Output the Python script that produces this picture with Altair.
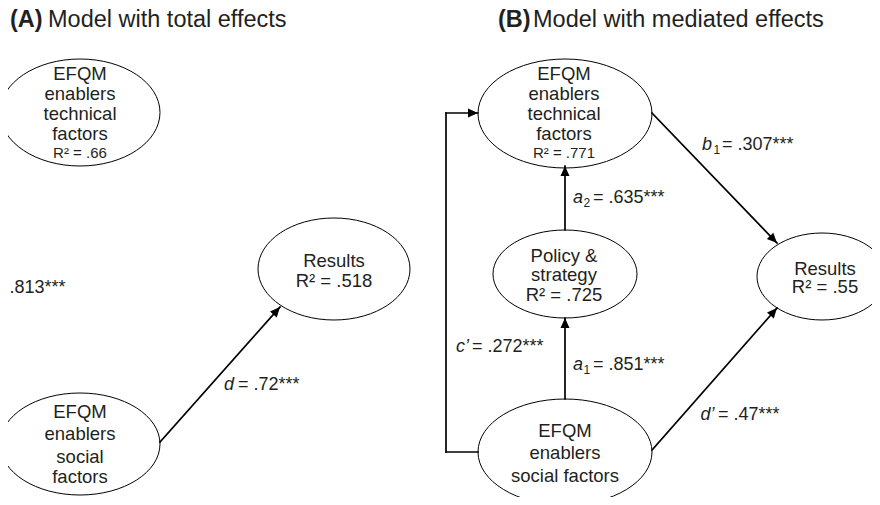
import math
import altair as alt
import pandas as pd

TEXT = "#231f20"
FONT = "Liberation Sans"

# ---------------- nodes (ellipses) in the figure's frame ----------------
node_id = ["A_tech", "A_res", "A_soc", "B_tech", "B_pol", "B_res", "B_soc"]
node_x = [80, 334, 80, 565, 565, 822, 565]
node_y = [112.5, 269, 444, 113.5, 274, 276.5, 452]
node_rx = [80, 76, 80, 87, 72, 65, 87]
node_ry = [53.5, 51, 51, 54.5, 44, 43.5, 53]

# ---------------- node labels ----------------
lab_text = ["EFQM", "enablers", "technical", "factors",
            "Results", "R² = .518",
            "EFQM", "enablers", "social", "factors",
            "EFQM", "enablers", "technical", "factors",
            "Policy &", "strategy", "R² = .725",
            "Results", "R² = .55",
            "EFQM", "enablers", "social factors"]
lab_x = [80, 80, 80, 80,
         334, 334,
         80, 80, 80, 80,
         564, 564, 564, 564,
         564, 564, 564,
         825, 825,
         565, 565, 565]
lab_y = [80, 100, 120, 140,
         266.5, 287,
         418, 440, 462.5, 483,
         80, 100, 120, 140,
         261.5, 280.5, 301,
         274.5, 293,
         436.5, 459, 481.5]

small_text = ["R² = .66", "R² = .771"]
small_x = [80, 564]
small_y = [158, 158]

# ---------------- path coefficients ----------------
coef_sym = ["c", "d", "a", "a", "b", "c’", "d’"]
coef_sub = ["", "", "2", "1", "1", "", ""]
coef_val = [".813", ".72", ".635", ".851", ".307", ".272", ".47"]
coef_sig = ["***", "***", "***", "***", "***", "***", "***"]
coef_x = [-18, 224, 573, 573, 702, 456, 700.5]
coef_sub_x = [0, 0, 583.5, 583.5, 713.5, 0, 0]
coef_rest_x = [-6, 238, 593, 593, 722, 472, 718]
coef_y = [292.5, 390, 203, 370, 150, 351.5, 420]

# ---------------- edges ----------------
edge_x1 = [160, 478, 446, 446, 565, 565, 652, 652]
edge_y1 = [442, 452, 452, 113, 399, 230, 113, 450]
edge_x2 = [280, 446, 446, 478, 565, 565, 777, 777]
edge_y2 = [307, 452, 113, 113, 318, 166, 243, 308]
edge_head = [True, False, False, True, True, True, True, True]

# ---------------- titles ----------------
title_bold = ["(A)", "(B)"]
title_bold_x = [10, 498]
title_rest = ["Model with total effects", "Model with mediated effects"]
title_rest_x = [48, 533]
title_y = [27, 27]

# ---------------- build tables ----------------
def ellipse_path(e):
    k = 0.5523
    ke = k * e
    return (f"M1,0C1,{ke:.4f} {k},{e:.4f} 0,{e:.4f}"
            f"C{-k},{e:.4f} -1,{ke:.4f} -1,0"
            f"C-1,{-ke:.4f} {-k},{-e:.4f} 0,{-e:.4f}"
            f"C{k},{-e:.4f} 1,{-ke:.4f} 1,0Z")

nodes = pd.DataFrame({
    "id": node_id, "x": node_x, "y": node_y,
    "shape": [ellipse_path(ry / rx) for rx, ry in zip(node_rx, node_ry)],
    "size": [(2 * rx) ** 2 for rx in node_rx],
})

edges = pd.DataFrame({"x": edge_x1, "y": edge_y1, "x2": edge_x2, "y2": edge_y2})

heads = pd.DataFrame({
    "x": [x2 for x2, h in zip(edge_x2, edge_head) if h],
    "y": [y2 for y2, h in zip(edge_y2, edge_head) if h],
    "angle": [math.degrees(math.atan2(x2 - x1, -(y2 - y1))) % 360
              for x1, y1, x2, y2, h in zip(edge_x1, edge_y1, edge_x2, edge_y2, edge_head) if h],
})

labels = pd.DataFrame({"t": lab_text, "x": lab_x, "y": lab_y})
smalls = pd.DataFrame({"t": small_text, "x": small_x, "y": small_y})
syms = pd.DataFrame({"t": coef_sym, "x": coef_x, "y": coef_y})
subs = pd.DataFrame({"t": coef_sub, "x": coef_sub_x, "y": [v + 4 for v in coef_y]})
subs = subs[subs["t"] != ""]
rests = pd.DataFrame({"t": [f"= {v}{s}" for v, s in zip(coef_val, coef_sig)],
                      "x": coef_rest_x, "y": coef_y})
tb = pd.DataFrame({"t": title_bold, "x": title_bold_x, "y": title_y})
tr = pd.DataFrame({"t": title_rest, "x": title_rest_x, "y": title_y})

W, H = 864, 489
xs = alt.Scale(domain=[8, 8 + W], nice=False, zero=False)
ys = alt.Scale(domain=[8, 8 + H], nice=False, zero=False, reverse=True)
X = lambda f="x": alt.X(f"{f}:Q", scale=xs, axis=None)
Y = lambda f="y": alt.Y(f"{f}:Q", scale=ys, axis=None)

ell = alt.Chart(nodes).mark_point(filled=False, color="black", strokeWidth=1, opacity=1).encode(
    x=X(), y=Y(),
    shape=alt.Shape("shape:N", scale=None, legend=None),
    size=alt.Size("size:Q", scale=None, legend=None),
)

rules = alt.Chart(edges).mark_rule(color="black", strokeWidth=1.7, strokeCap="square").encode(
    x=X(), y=Y(), x2="x2:Q", y2="y2:Q"
)

arrowheads = alt.Chart(heads).mark_point(
    filled=True, color="black", opacity=1, shape="M0,0L0.45,1L-0.45,1Z", size=400
).encode(x=X(), y=Y(), angle=alt.Angle("angle:Q", scale=None))


def txt(df, size, align="center", style="normal", weight="normal"):
    return alt.Chart(df).mark_text(
        font=FONT, fontSize=size, align=align, baseline="alphabetic",
        fontStyle=style, fontWeight=weight, color=TEXT,
    ).encode(x=X(), y=Y(), text="t:N")


chart = alt.layer(
    ell, rules, arrowheads,
    txt(labels, 18.5),
    txt(smalls, 15),
    txt(syms, 18, "left", style="italic"),
    txt(subs, 12, "left"),
    txt(rests, 18, "left"),
    txt(tb, 23.5, "left", weight="bold"),
    txt(tr, 23.5, "left"),
).properties(
    width=W, height=H, padding=0,
    autosize=alt.AutoSizeParams(type="none"),
    background="white",
).configure_view(stroke=None)

chart.save("out.html", embed_options={"renderer": "svg", "actions": False})
